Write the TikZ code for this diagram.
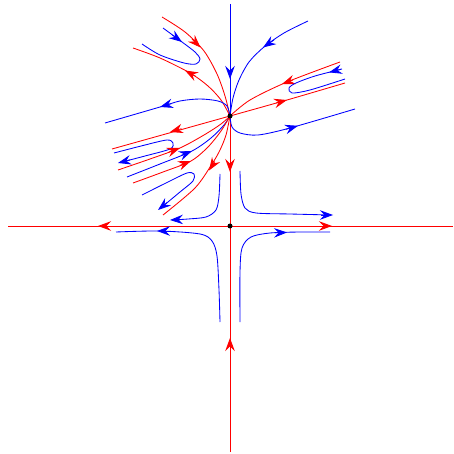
\documentclass[tikz,border=0pt]{standalone}
\usetikzlibrary{arrows.meta}
\tikzset{
  bl/.style={blue, line width=0.85pt},
  rd/.style={red, line width=0.85pt},
  tipA/.tip={Stealth[length=13pt,width=9.5pt,inset=4.5pt]},
  ah/.style={-tipA},
  dot/.style={circle,fill=black,inner sep=0pt,minimum size=5pt},
}
\begin{document}
\begin{tikzpicture}[x=1pt,y=-1pt]
\useasboundingbox (0,0) rectangle (453,454);
\coordinate (P) at (230,116);
\coordinate (Q) at (230,226);
\coordinate (L) at (8,226);
\coordinate (R) at (453,226);
\coordinate (B) at (230,452);
\coordinate (T) at (230,4);
% axes through Q
\draw[rd] (Q) -- (L);
\draw[rd] (Q) -- (R);
\draw[rd] (P) -- (Q);
\draw[rd] (B) -- (Q);
\draw[bl] (T) -- (P);
\draw[rd, ah] (110,226) -- (98,226);
\draw[rd, ah] (320,226) -- (332,226);
\draw[rd, ah] (230,160) -- (230,172);
\draw[rd, ah] (230,350) -- (230,338);
\draw[bl, ah] (230,67) -- (230,79);
% hyperbolas around Q
\draw[bl] plot[smooth] coordinates {(220,174) (219,196) (216,210) (206,217) (188,219) (172,220)};
\draw[bl, ah] (182,219.5) -- (170,220);
\draw[bl] plot[smooth] coordinates {(240,171) (241,194) (245,208) (256,213) (290,214) (331,215)};
\draw[bl, ah] (321,215) -- (333,215);
\draw[bl] plot[smooth] coordinates {(220,322) (219,290) (217,256) (212,241) (200,234) (160,231) (116,232)};
\draw[bl, ah] (169,231) -- (157,231);
\draw[bl] plot[smooth] coordinates {(240,322) (240,272) (242,248) (251,237) (270,233) (300,232) (330,232)};
\draw[bl, ah] (275,232.8) -- (287,232.5);
% upper right
\draw[bl] plot[smooth] coordinates {(308,21) (284,33) (264,47) (249,62) (239,80) (233,98) (P)};
\draw[bl, ah] (274,40) -- (263,47.5);
\draw[rd] plot[smooth] coordinates {(340,62) (287,82) (250,100) (P)};
\draw[rd, ah] (293,80) -- (282,84);
\draw[rd] plot[smooth] coordinates {(P) (287,100) (345,83)};
\draw[rd, ah] (276,103) -- (287,100);
\draw[bl] plot[smooth] coordinates {(342,69) (315,76) (296,83) (289,88) (292,93) (310,90) (345,79)};
\draw[bl, ah] (341,69.3) -- (329,72.4);
\draw[bl] plot[smooth] coordinates {(P) (232,127) (240,133) (258,135) (290,128) (355,109)};
\draw[bl, ah] (286,129.3) -- (298,125.8);
% upper left
\draw[rd] plot[smooth] coordinates {(162,17) (185,32) (204,51) (217,74) (225,96) (P)};
\draw[rd, ah] (192,39) -- (200.5,47.5);
\draw[bl] plot[smooth] coordinates {(163,28) (182,42) (195,52) (200,59) (196,64) (184,63) (160,55) (142,44)};
\draw[bl, ah] (172.4,35) -- (182,42);
\draw[rd] plot[smooth] coordinates {(P) (221,100) (208,86) (190,73) (160,58) (133,48)};
\draw[rd, ah] (195.3,76) -- (185,70.5);
\draw[bl] plot[smooth] coordinates {(P) (227,106) (218,101) (200,99) (180,101) (160,107) (105,123)};
\draw[bl, ah] (171.5,103.6) -- (160,107);
% lower left fan
\draw[rd] (P) -- (112,149);
\draw[rd, ah] (181.5,128.7) -- (170,132);
\draw[bl] plot[smooth] coordinates {(114,153) (145,145) (167,140) (173,143) (170,149) (145,156) (120,162.5)};
\draw[bl, ah] (130,160) -- (118,163);
\draw[rd] plot[smooth] coordinates {(118,170) (150,159) (180,148) (204,135) (221,124) (P)};
\draw[rd, ah] (168.7,152.1) -- (180,148);
\draw[bl] plot[smooth] coordinates {(127,177) (160,164) (192,151) (211,138) (224,125) (P)};
\draw[bl, ah] (180.9,155.5) -- (192,151);
\draw[rd] plot[smooth] coordinates {(133,183) (163,172) (191,161) (208,147) (221,131) (P)};
\draw[rd, ah] (179.8,165.4) -- (191,161);
\draw[bl] plot[smooth] coordinates {(142,195) (168,182) (187,173) (194,174) (193,181) (180,192) (159.5,209)};
\draw[bl, ah] (167.3,202.4) -- (158,210);
\draw[rd] plot[smooth] coordinates {(P) (226,135) (220,150) (212,164) (195,188) (163,215)};
\draw[rd, ah] (214.8,161.5) -- (209,170.5);
% equilibria
\node[dot] (Pdot) at (P) {};
\node[dot] (Qdot) at (Q) {};
\end{tikzpicture}
\end{document}
